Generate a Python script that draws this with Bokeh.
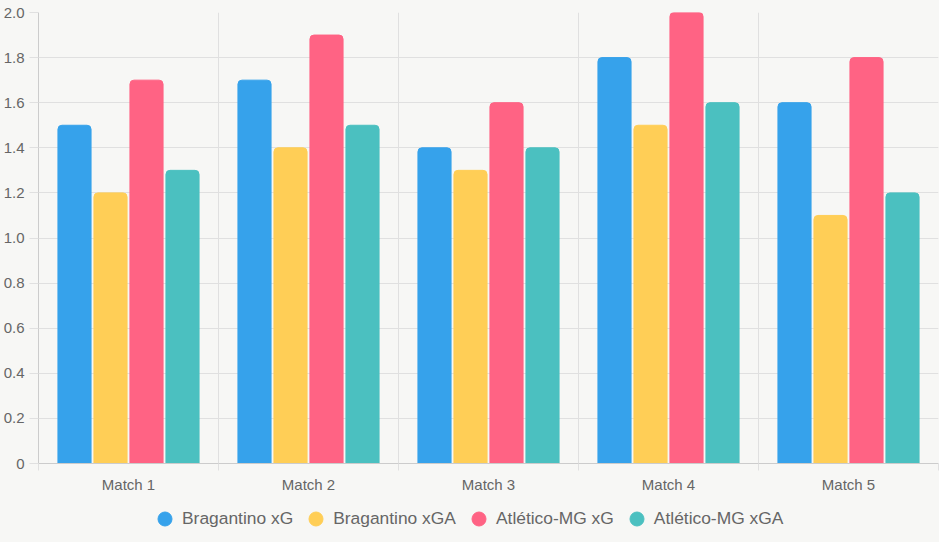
from bokeh.plotting import figure
from bokeh.layouts import column
from bokeh.models import (ColumnDataSource, FixedTicker, CustomJSTickFormatter,
                          Legend, LegendItem, Range1d)
from bokeh.embed import file_html
from bokeh.resources import INLINE

matches = ["Match 1", "Match 2", "Match 3", "Match 4", "Match 5"]
series_names = ["Bragantino xG", "Bragantino xGA", "Atlético-MG xG", "Atlético-MG xGA"]
bragantino_xg = [1.5, 1.7, 1.4, 1.8, 1.6]
bragantino_xga = [1.2, 1.4, 1.3, 1.5, 1.1]
atletico_xg = [1.7, 1.9, 1.6, 2.0, 1.8]
atletico_xga = [1.3, 1.5, 1.4, 1.6, 1.2]
colors = ["#36A2EB", "#FFCE56", "#FF6384", "#4BC0C0"]
y_ticks = [0, 0.2, 0.4, 0.6, 0.8, 1.0, 1.2, 1.4, 1.6, 1.8, 2.0]

series = [bragantino_xg, bragantino_xga, atletico_xg, atletico_xga]

BG = "#f7f7f5"
GRID = "#e0e0e0"
AXIS = "#cccccc"
TXT = "#666666"
FONT = "Liberation Sans"

p = figure(width=939, height=495, output_backend="svg", toolbar_location=None,
           x_range=Range1d(0, len(matches)), y_range=Range1d(0, 2.0))
p.background_fill_color = BG
p.border_fill_color = BG
p.outline_line_color = None
p.min_border_left = 38
p.min_border_right = 1
p.min_border_top = 12
p.min_border_bottom = 32

centers = [i + 0.5 for i in range(len(matches))]
group_w = 0.8
slot = group_w / len(series)
for j, (vals, col) in enumerate(zip(series, colors)):
    xs = [c - group_w / 2 + slot * (j + 0.5) for c in centers]
    src = ColumnDataSource(dict(x=xs, top=vals))
    p.vbar(x="x", top="top", bottom=0, width=slot * 0.92, source=src,
           fill_color=col, line_color=col, line_width=1,
           border_radius=(4, 4, 0, 0))

# x axis: labels at category centres, boundary ticks as minor ticks
p.xaxis.ticker = FixedTicker(ticks=centers, minor_ticks=list(range(len(matches) + 1)))
p.xaxis.major_label_overrides = {c: m for c, m in zip(centers, matches)}
p.xaxis.major_tick_out = 0
p.xaxis.major_tick_in = 0
p.xaxis.minor_tick_out = 7
p.xaxis.minor_tick_in = 0
p.xaxis.minor_tick_line_color = GRID
p.xaxis.axis_line_color = AXIS
p.xaxis.major_label_standoff = 5
p.xaxis.major_label_text_font = FONT
p.xaxis.major_label_text_font_size = "15px"
p.xaxis.major_label_text_color = TXT
p.xgrid.ticker = FixedTicker(ticks=list(range(len(matches) + 1)))
p.xgrid.grid_line_color = GRID

# y axis
p.yaxis.ticker = FixedTicker(ticks=y_ticks)
p.yaxis.formatter = CustomJSTickFormatter(code="return tick == 0 ? '0' : tick.toFixed(1);")
p.yaxis.major_tick_out = 9
p.yaxis.major_tick_in = 0
p.yaxis.major_tick_line_color = GRID
p.yaxis.minor_tick_line_color = None
p.yaxis.axis_line_color = AXIS
p.yaxis.major_label_standoff = 5
p.yaxis.major_label_text_font = FONT
p.yaxis.major_label_text_font_size = "15px"
p.yaxis.major_label_text_color = TXT
p.ygrid.grid_line_color = GRID

# legend strip
lg = figure(width=939, height=47, output_backend="svg", toolbar_location=None,
            x_range=Range1d(0, 1), y_range=Range1d(0, 1),
            x_axis_location=None, y_axis_location=None)
lg.background_fill_color = BG
lg.border_fill_color = BG
lg.outline_line_color = None
lg.grid.visible = False
lg.min_border = 0
items = []
for name, col in zip(series_names, colors):
    d = lg.scatter(x=[-10], y=[-10], marker="circle", fill_color=col, line_color=col)
    items.append(LegendItem(label=name, renderers=[d]))
legend = Legend(items=items, orientation="horizontal", location=(109, 6),
                glyph_width=35, glyph_height=35, label_standoff=0, spacing=5,
                padding=0, margin=0,
                background_fill_alpha=0, border_line_color=None,
                label_text_font=FONT, label_text_font_size="17.4px",
                label_text_color=TXT)
lg.add_layout(legend, "center")

layout = column(p, lg, spacing=0)
layout.styles = {"background-color": BG}
open("out.html", "w").write(file_html(layout, INLINE))
